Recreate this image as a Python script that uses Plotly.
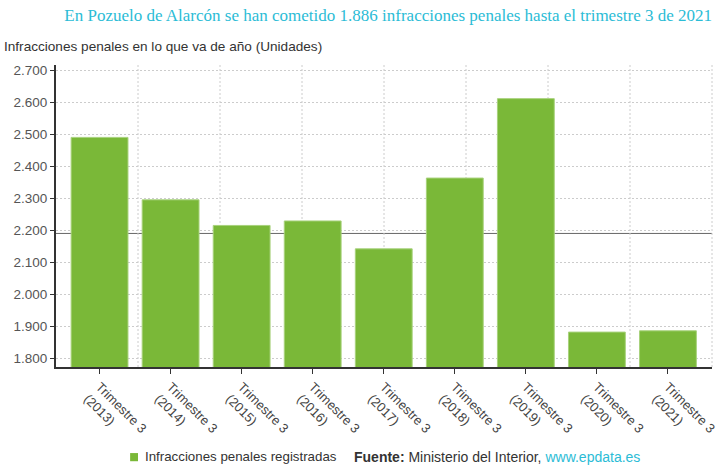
import plotly.graph_objects as go

# Infracciones penales en lo que va de año, trimestre 3 de cada año
years = ["2013", "2014", "2015", "2016", "2017", "2018", "2019", "2020", "2021"]
infracciones = [2490, 2295, 2215, 2229, 2142, 2363, 2611, 1882, 1886]
tick_labels = ["Trimestre 3<br>(%s)" % y for y in years]
y_ticks = [1800, 1900, 2000, 2100, 2200, 2300, 2400, 2500, 2600, 2700]
linea_ref = 2190

GREEN = "#7ab838"
CYAN = "#2bbcd6"

fig = go.Figure()
fig.add_trace(go.Bar(
    x=tick_labels,
    y=infracciones,
    name="Infracciones penales registradas",
    marker=dict(color=GREEN, line=dict(color="#a8d27c", width=1)),
    width=0.8,
    hoverinfo="y",
    showlegend=False,
))

shapes = [
    dict(type="line", xref="paper", yref="y", x0=0, x1=1, y0=linea_ref, y1=linea_ref,
         line=dict(color="#666666", width=1), layer="below"),
    # cuadrado de la leyenda
    dict(type="rect", xref="paper", yref="paper", x0=0.113, x1=0.125, y0=-0.285, y1=-0.312,
         fillcolor=GREEN, line=dict(width=0)),
]
# rejilla vertical (independiente de las categorias)
for k in range(1, 9):
    shapes.append(dict(type="line", xref="paper", yref="paper", x0=k / 8, x1=k / 8, y0=0, y1=1,
                       line=dict(color="#cccccc", width=1, dash="2px,2px"), layer="below"))

fig.update_layout(
    width=720,
    height=466,
    margin=dict(l=56, r=8, t=65, b=99, autoexpand=False),
    plot_bgcolor="white",
    paper_bgcolor="white",
    separators=",.",
    font=dict(family="Arial, Liberation Sans, sans-serif", size=13, color="#333333"),
    title=dict(
        text="En Pozuelo de Alarcón se han cometido 1.886 infracciones penales hasta el trimestre 3 de 2021",
        font=dict(family="Liberation Serif, Times New Roman, serif", size=17, color=CYAN),
        xref="paper", x=1, xanchor="right",
        yref="container", y=1 - 15 / 466, yanchor="middle",
        automargin=False,
    ),
    showlegend=False,
    shapes=shapes,
    annotations=[
        dict(text="Infracciones penales en lo que va de año (Unidades)",
             xref="paper", yref="paper", x=-0.0823, y=1.06, xanchor="left", yanchor="middle",
             showarrow=False, font=dict(size=13.6, color="#333333")),
        dict(text="Infracciones penales registradas",
             xref="paper", yref="paper", x=0.1326, y=-0.298, xanchor="left", yanchor="middle",
             showarrow=False, font=dict(size=13.3, color="#333333")),
        dict(text="<b>Fuente:</b> Ministerio del Interior, <span style='color:%s'>www.epdata.es</span>" % CYAN,
             xref="paper", yref="paper", x=0.451, y=-0.298, xanchor="left", yanchor="middle",
             showarrow=False, font=dict(size=14, color="#333333")),
    ],
)

fig.update_xaxes(
    range=[-0.613, 8.62],
    automargin=False,
    showgrid=False,
    showline=True, linecolor="#333333", linewidth=2,
    ticks="outside", ticklen=5, tickcolor="#333333",
    tickangle=45,
    tickfont=dict(size=13, color="#444444"),
)
fig.update_yaxes(
    range=[1773, 2716],
    automargin=False,
    tickvals=y_ticks,
    tickformat=",d",
    showgrid=True, gridcolor="#cccccc", griddash="2px,2px",
    showline=True, linecolor="#333333", linewidth=2,
    ticks="outside", ticklen=4, tickcolor="#333333",
    tickfont=dict(size=13.5, color="#555555"),
    zeroline=False,
)

# sin margen del body para que el grafico ocupe la ventana justa
fig.write_html("out.html", config={"displayModeBar": False},
               post_script="document.body.style.margin='0px';")
